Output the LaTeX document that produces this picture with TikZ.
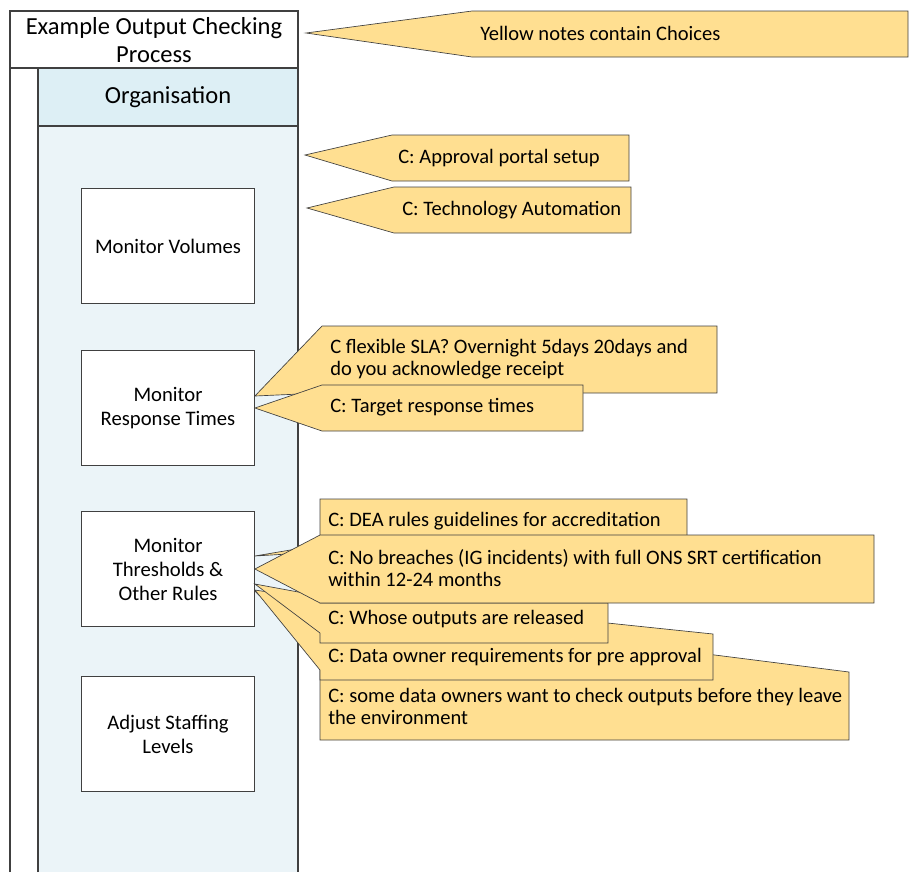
\documentclass[tikz,border=0pt]{standalone}
\usepackage{fontspec}
\setmainfont{Carlito}
\usetikzlibrary{positioning, calc}
\definecolor{notefill}{HTML}{FFDF91}
\definecolor{headfill}{HTML}{DDEFF5}
\definecolor{lanefill}{HTML}{EBF4F8}
\definecolor{edgegray}{HTML}{404040}

\begin{document}
\begin{tikzpicture}[x=0.75pt, y=-0.75pt,
    pool/.style={draw=edgegray, line width=0.8pt},
    task/.style={draw=edgegray, fill=white, line width=0.6pt, minimum width=129.75pt,
      minimum height=86.5pt, align=center, font=\fontsize{15.5}{18}\selectfont},
    note/.style={draw=edgegray, fill=notefill, line width=0.5pt},
    notetext/.style={anchor=west, inner sep=0pt, align=left, font=\fontsize{15.4}{16.5}\selectfont}]
      \useasboundingbox (0,0) rectangle (909,872);

      % pool and lane
      \fill[lanefill] (38,126) rectangle (298,872);
      \fill[headfill] (38,68) rectangle (298,126);
      \fill[white] (10,11) rectangle (298,68);
      \draw[pool] (10,872) |- (298,11) -- (298,872);
      \draw[pool] (10,68) -- (298,68);
      \draw[pool] (38,872) -- (38,68) -- (298,68);
      \draw[pool] (38,126) -- (298,126);
      \node[align=center, font=\fontsize{18.4}{21.5}\selectfont] (title) at (154,40) {Example Output Checking\\Process};
      \node[font=\fontsize{18.4}{21.5}\selectfont] (lane) at (168,97) {Organisation};

      % tasks
      \node[task] (vol) at (168,246) {Monitor Volumes};
      \node[task] (resp) at (168,408) {Monitor\\Response Times};
      \node[task] (thr) at (168,569) {Monitor\\Thresholds \&\\Other Rules};
      \node[task] (staff) at (168,734) {Adjust Staffing\\Levels};

      % tips of the notes
      \coordinate (tYel) at (306,33);
      \coordinate (tApp) at (305,155);
      \coordinate (tTech) at (307,208);
      \coordinate (tSla) at ($(resp.east)+(0,-12)$);
      \coordinate (tTgt) at (resp.east);
      \coordinate (tDea) at ($(thr.east)+(0,-13)$);
      \coordinate (tNob) at (thr.east);
      \coordinate (tWho) at ($(thr.east)+(0,15)$);
      \coordinate (tOwn) at ($(thr.east)+(0,21)$);
      \coordinate (tSome) at ($(thr.east)+(0,22)$);

      % yellow notes
      \draw[note] (tYel) -- (472,11) -- (908,11) -- (908,57) -- (472,57) -- cycle;
      \node[notetext] (yel) at (480,33) {Yellow notes contain Choices};

      \draw[note] (tApp) -- (392,135) -- (629,135) -- (629,181) -- (392,181) -- cycle;
      \node[notetext] (app) at (398,158) {C: Approval portal setup};
      \draw[note] (tTech) -- (394,187) -- (631,187) -- (631,233) -- (394,233) -- cycle;
      \node[notetext] (tech) at (402,210) {C: Technology Automation};

      \draw[note] (tSla) -- (322,326) -- (717,326) -- (717,393) -- (322,393) -- cycle;
      \node[notetext] (sla) at (330,359.5) {C flexible SLA? Overnight 5days 20days and\\do you acknowledge receipt};
      \draw[note] (tTgt) -- (322,385) -- (583,385) -- (583,431) -- (322,431) -- cycle;
      \node[notetext] (tgt) at (330,407) {C: Target response times};

      \draw[note] (320,605) -- (849,672) -- (849,740) -- (320,740) -- (320,655) -- (tSome) -- (320,640) -- cycle;
      \draw[note] (320,593) -- (713,634) -- (713,680) -- (320,680) -- (320,670) -- (tOwn) -- (320,600) -- cycle;
      \draw[note] (tWho) -- (320,596) -- (320,603) -- (608,603) -- (608,643) -- (320,643) -- (320,633) -- cycle;
      \draw[note] (320,499) -- (687,499) -- (687,552) -- (320,552) -- (tDea) -- (320,545) -- cycle;
      \draw[note] (tNob) -- (320,535) -- (874,535) -- (874,603) -- (320,603) -- cycle;
      \node[notetext] (dea) at (328,521) {C: DEA rules guidelines for accreditation};
      \node[notetext] (nob) at (328,568.5) {C: No breaches (IG incidents) with full ONS SRT certification\\within 12-24 months};
      \node[notetext] (who) at (328,619) {C: Whose outputs are released};
      \node[notetext] (own) at (328,657) {C: Data owner requirements for pre approval};
      \node[notetext] (some) at (328,706) {C: some data owners want to check outputs before they leave\\the environment};
    \end{tikzpicture}
\end{document}
